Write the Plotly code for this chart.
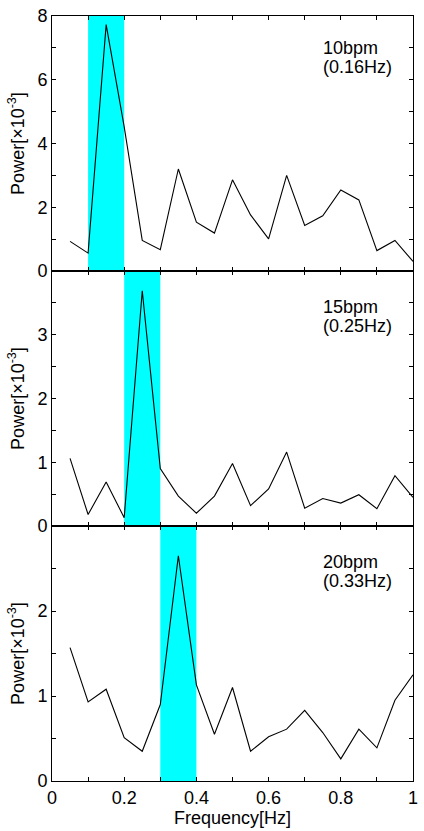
import plotly.graph_objects as go
from plotly.subplots import make_subplots

freq = [0.05, 0.10, 0.15, 0.20, 0.25, 0.30, 0.35, 0.40, 0.45, 0.50,
        0.55, 0.60, 0.65, 0.70, 0.75, 0.80, 0.85, 0.90, 0.95, 1.00]

power_10bpm = [0.93, 0.56, 7.73, 4.52, 0.96, 0.67, 3.20, 1.53, 1.19, 2.86,
               1.76, 1.01, 3.00, 1.43, 1.73, 2.54, 2.23, 0.64, 0.96, 0.30]
power_15bpm = [1.06, 0.18, 0.69, 0.13, 3.69, 0.90, 0.47, 0.20, 0.47, 0.98,
               0.32, 0.58, 1.16, 0.28, 0.43, 0.36, 0.49, 0.27, 0.79, 0.45]
power_20bpm = [1.57, 0.93, 1.08, 0.51, 0.35, 0.90, 2.65, 1.13, 0.55, 1.10,
               0.35, 0.52, 0.61, 0.83, 0.57, 0.26, 0.61, 0.39, 0.95, 1.25]

bands = [(0.1, 0.2), (0.2, 0.3), (0.3, 0.4)]
label_line1 = ["10bpm", "15bpm", "20bpm"]
label_line2 = ["(0.16Hz)", "(0.25Hz)", "(0.33Hz)"]
y_ranges = [(0, 8), (0, 4), (0, 3)]
y_tickvals = [[0, 2, 4, 6, 8], [0, 1, 2, 3], [0, 1, 2]]
y_minor_dtick = [1, 0.5, 0.5]
x_tickvals = [0, 0.2, 0.4, 0.6, 0.8, 1.0]
x_ticktext = ["0", "0.2", "0.4", "0.6", "0.8", "1"]

series = [power_10bpm, power_15bpm, power_20bpm]

FONT = "Liberation Sans, Arial, Helvetica, sans-serif"
FS = 18

fig = make_subplots(rows=3, cols=1, vertical_spacing=0, shared_xaxes=False)

label_shift = [-32, -36, -36]

for i in range(3):
    r = i + 1
    fig.add_trace(go.Scatter(x=freq, y=series[i], mode="lines",
                             line=dict(color="black", width=1.1),
                             showlegend=False), row=r, col=1)
    fig.add_vrect(x0=bands[i][0], x1=bands[i][1], fillcolor="#00FFFF", opacity=1,
                  line_width=0, layer="below", row=r, col=1, exclude_empty_subplots=False)
    fig.update_yaxes(range=list(y_ranges[i]), tickvals=y_tickvals[i],
                     ticks="inside", ticklen=4, tickcolor="black", mirror="ticks",
                     minor=dict(dtick=y_minor_dtick[i], tick0=0, ticks="inside", ticklen=4,
                                tickcolor="black", showgrid=False),
                     showline=True, linecolor="black", linewidth=1, showgrid=False,
                     zeroline=False,
                     title=dict(text="Power[×10<sup>-3</sup>]", font=dict(size=FS, family=FONT, color="black"),
                                standoff=8),
                     tickfont=dict(size=FS, family=FONT, color="black"),
                     row=r, col=1)
    fig.update_xaxes(range=[0, 1], tickvals=x_tickvals, ticktext=x_ticktext,
                     showticklabels=(r == 3),
                     ticks="inside", ticklen=4, tickcolor="black", mirror="ticks",
                     minor=dict(dtick=0.1, tick0=0, ticks="inside", ticklen=4,
                                tickcolor="black", showgrid=False),
                     showline=True, linecolor="black", linewidth=1, showgrid=False,
                     zeroline=False,
                     tickfont=dict(size=FS, family=FONT, color="black"),
                     row=r, col=1)
    xref = "x" if r == 1 else f"x{r}"
    yref = "y domain" if r == 1 else f"y{r} domain"
    fig.add_annotation(text=label_line1[i], x=0.745, y=1, xref=xref, yref=yref,
                       xanchor="left", yanchor="middle", align="left", showarrow=False,
                       yshift=label_shift[i], font=dict(size=FS, family=FONT, color="black"))
    fig.add_annotation(text=label_line2[i], x=0.745, y=1, xref=xref, yref=yref,
                       xanchor="left", yanchor="middle", align="left", showarrow=False,
                       yshift=label_shift[i] - 19, font=dict(size=FS, family=FONT, color="black"))

fig.update_xaxes(title=dict(text="Frequency[Hz]", font=dict(size=FS, family=FONT, color="black"),
                            standoff=3), row=3, col=1)

fig.update_layout(width=424, height=831, margin=dict(l=52, r=6, t=12, b=50),
                  plot_bgcolor="white", paper_bgcolor="white",
                  font=dict(family=FONT, color="black"))

fig.write_html("out.html")
